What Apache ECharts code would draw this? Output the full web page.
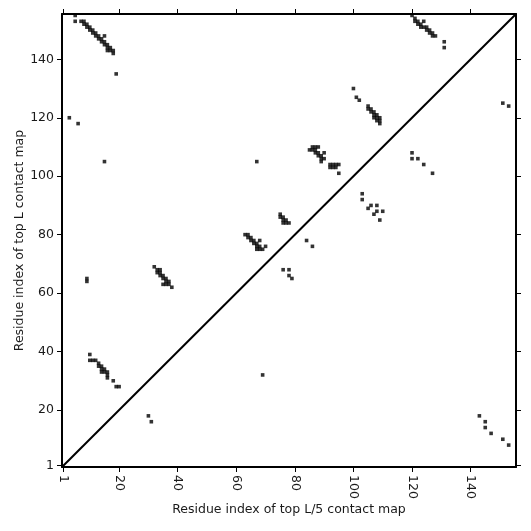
<!DOCTYPE html>
<html>
<head>
<meta charset="utf-8">
<script src="https://cdn.jsdelivr.net/npm/echarts@6/dist/echarts.min.js"></script>
<style>html,body{margin:0;padding:0;background:#fff}#c{width:531px;height:531px}</style>
</head>
<body>
<div id="c"></div>
<script>
// Residue range and tick labels
var axisRange = [0.5, 155.5];
var tickValues = [1, 20, 40, 60, 80, 100, 120, 140];
var xAxisTitle = 'Residue index of top L/5 contact map';
var yAxisTitle = 'Residue index of top L contact map';

// Contacts drawn in the upper-left triangle (y > x)
var upperContacts = [
  [5,155],[5,153],[7,153],[8,153],[8,152],[9,152],[9,151],[10,151],[10,150],[11,150],[11,149],
  [12,149],[12,148],[13,148],[13,147],[14,147],[14,146],[15,146],[15,145],[16,145],[16,144],
  [17,144],[16,143],[17,143],[18,143],[18,142],[15,148],[19,135],[3,120],[6,118],[15,105],
  [9,64],[9,65],
  [10,39],[10,37],[11,37],[12,37],[13,36],[13,35],[14,35],[14,34],[15,34],[14,33],[15,33],
  [16,33],[16,32],[16,31],[18,30],[19,28],[20,28],
  [32,69],[33,68],[34,68],[33,67],[34,67],[34,66],[35,66],[35,65],[36,65],[36,64],[37,64],
  [35,63],[36,63],[37,63],[38,62],
  [63,80],[64,80],[65,79],[64,79],[65,78],[66,78],[66,77],[67,77],[68,78],[67,76],[68,76],
  [67,75],[68,75],[69,75],[70,76],
  [75,87],[75,86],[76,86],[76,85],[77,85],[76,84],[77,84],[78,84],
  [67,105],
  [85,109],[86,110],[87,110],[88,110],[86,109],[87,109],[87,108],[88,108],[88,107],[89,107],
  [90,108],[89,106],[90,106],[89,105],[92,104],[93,104],[94,104],[92,103],[93,103],[94,103],
  [95,104],[95,101],
  [100,130],[101,127],[102,126],[105,124],[105,123],[106,123],[106,122],[107,122],[107,121],
  [108,121],[107,120],[108,120],[108,119],[109,120],[109,119],[109,118],
  [120,155],[121,154],[121,153],[122,153],[122,152],[123,152],[124,153],[123,151],[124,151],
  [125,151],[125,150],[126,150],[126,149],[127,149],[127,148],[128,148],[131,146],[131,144]
];

// Contacts drawn in the lower-right triangle (y < x)
var lowerContacts = [
  [84,78],[86,76],[76,68],[78,68],[78,66],[79,65],[69,32],[30,18],[31,16],
  [103,94],[103,92],[106,90],[108,90],[105,89],[108,88],[110,88],[107,87],[109,85],
  [120,108],[120,106],[122,106],[124,104],[127,101],[151,125],[153,124],
  [143,18],[145,16],[145,14],[147,12],[151,10],[153,8]
];

// Diagonal reference line
var diagonal = [[0.5,0.5],[155.5,155.5]];

var font = 'DejaVu Sans';
var fs = 12.5;
function mainX(){return {
  type:'value', position:'bottom', min:axisRange[0], max:axisRange[1],
  name:xAxisTitle, nameLocation:'middle', nameGap:36, nameMoveOverlap:false,
  nameTextStyle:{fontFamily:font,fontSize:fs,color:'#1a1a1a'},
  axisLine:{show:true,onZero:false,lineStyle:{color:'#000',width:2}},
  axisTick:{show:true,length:5,lineStyle:{color:'#000',width:1},customValues:tickValues},
  axisLabel:{show:true,rotate:-90,margin:8,fontFamily:font,fontSize:fs,color:'#1a1a1a',customValues:tickValues},
  splitLine:{show:false}
};}
function mainY(){return {
  type:'value', position:'left', min:axisRange[0], max:axisRange[1],
  name:yAxisTitle, nameLocation:'middle', nameGap:36, nameMoveOverlap:false,
  nameTextStyle:{fontFamily:font,fontSize:fs,color:'#1a1a1a'},
  axisLine:{show:true,onZero:false,lineStyle:{color:'#000',width:2}},
  axisTick:{show:true,length:5,lineStyle:{color:'#000',width:1},customValues:tickValues},
  axisLabel:{show:true,margin:8,fontFamily:font,fontSize:fs,color:'#1a1a1a',customValues:tickValues},
  splitLine:{show:false}
};}
var chart = echarts.init(document.getElementById('c'), null, {renderer:'canvas'});
chart.setOption({
  animation:false,
  backgroundColor:'#fff',
  grid:{left:62,right:15,top:14,bottom:64,containLabel:false,outerBoundsMode:'none'},
  xAxis:[mainX(), {
    type:'value', position:'top', min:axisRange[0], max:axisRange[1],
    axisLine:{show:true,onZero:false,lineStyle:{color:'#000',width:2}},
    axisTick:{show:true,length:5,lineStyle:{color:'#000',width:1},customValues:tickValues},
    axisLabel:{show:false}, splitLine:{show:false}
  }],
  yAxis:[mainY(), {
    type:'value', position:'right', min:axisRange[0], max:axisRange[1],
    axisLine:{show:true,onZero:false,lineStyle:{color:'#000',width:2}},
    axisTick:{show:true,length:5,lineStyle:{color:'#000',width:1},customValues:tickValues},
    axisLabel:{show:false}, splitLine:{show:false}
  }],
  series:[
    {type:'line', data:diagonal, symbol:'none', silent:true,
     lineStyle:{color:'#000',width:2}},
    {type:'scatter', data:upperContacts, symbol:'rect', symbolSize:3.6,
     itemStyle:{color:'#000'}, silent:true},
    {type:'scatter', data:lowerContacts, symbol:'rect', symbolSize:3.6,
     itemStyle:{color:'#000'}, silent:true}
  ]
});
</script>
</body>
</html>
